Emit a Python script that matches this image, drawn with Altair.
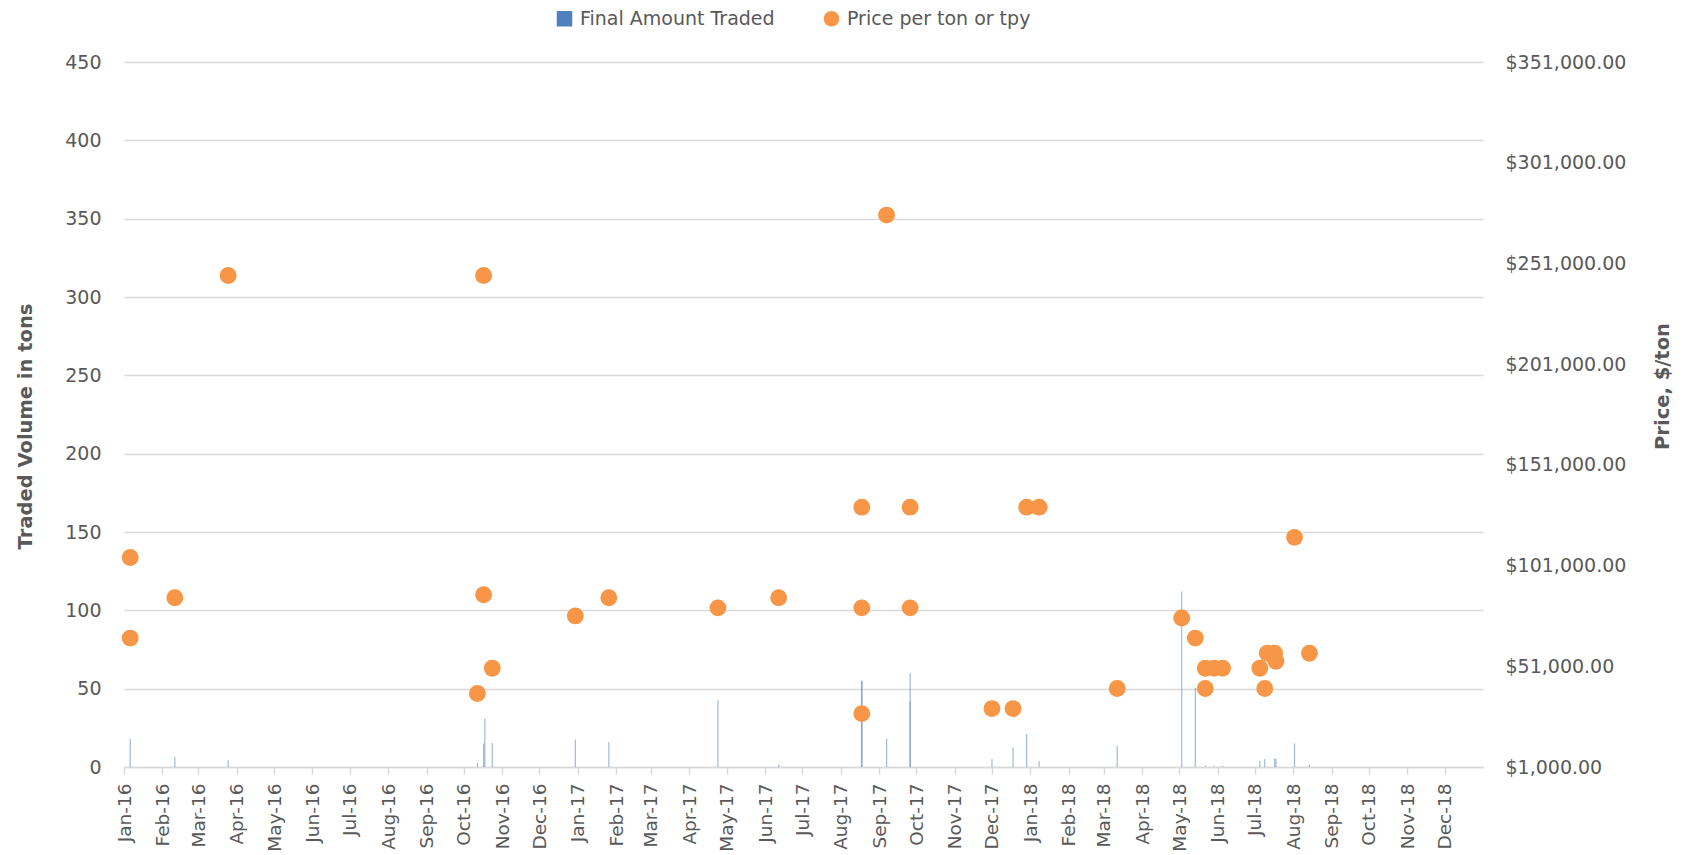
import altair as alt
import pandas as pd

# ---- data ----
bar_dates = ["2016-01-06", "2016-02-11", "2016-03-25", "2016-10-12", "2016-10-17",
             "2016-10-18", "2016-10-24", "2016-12-30", "2017-01-26", "2017-04-24",
             "2017-06-12", "2017-08-18", "2017-08-18", "2017-09-07", "2017-09-26",
             "2017-09-26", "2017-12-01", "2017-12-18", "2017-12-29", "2018-01-08",
             "2018-03-12", "2018-05-03", "2018-05-14", "2018-05-22", "2018-05-29",
             "2018-06-05", "2018-07-05", "2018-07-09", "2018-07-17", "2018-07-18",
             "2018-08-02", "2018-08-14"]
bar_volumes = [18, 6.4, 4.3, 2.6, 15,
               31, 15.3, 17.5, 15.8, 42.6,
               1.7, 55, 55, 18, 60,
               42, 5.3, 12.6, 21.3, 3.6,
               13.6, 112, 50.5, 1, 0.8,
               0.7, 4, 5.1, 5.3, 5.3,
               15.1, 1.5]

point_dates = ["2016-01-06", "2016-01-06", "2016-02-11", "2016-03-25", "2016-10-12",
               "2016-10-17", "2016-10-17", "2016-10-24", "2016-12-30", "2017-01-26",
               "2017-04-24", "2017-06-12", "2017-08-18", "2017-08-18", "2017-08-18",
               "2017-09-07", "2017-09-26", "2017-09-26", "2017-12-01", "2017-12-18",
               "2017-12-29", "2018-01-08", "2018-03-12", "2018-05-03", "2018-05-14",
               "2018-05-22", "2018-05-22", "2018-05-29", "2018-06-05", "2018-07-05",
               "2018-07-09", "2018-07-11", "2018-07-17", "2018-07-18", "2018-08-02",
               "2018-08-14"]
point_prices = [105000, 65000, 85000, 245000, 37500,
                245000, 86500, 50000, 76000, 85000,
                80000, 85000, 130000, 80000, 27500,
                275000, 130000, 80000, 30000, 30000,
                130000, 130000, 40000, 75000, 65000,
                50000, 40000, 50000, 50000, 50000,
                40000, 57500, 57500, 53500, 115000,
                57500]

series_names = ["Final Amount Traded", "Price per ton or tpy"]
series_colors = ["#4F81BD", "#F79646"]
series_shapes = ["square", "circle"]

left_ticks = [0, 50, 100, 150, 200, 250, 300, 350, 400, 450]
right_ticks = [1000, 51000, 101000, 151000, 201000, 251000, 301000, 351000]
tick_years = [2016, 2017, 2018]
tick_months = list(range(1, 13))

bars = pd.DataFrame({"date": pd.to_datetime(bar_dates), "volume": bar_volumes,
                     "series": series_names[0]})
points = pd.DataFrame({"date": pd.to_datetime(point_dates), "price": point_prices,
                       "series": series_names[1]})

month_values = [alt.DateTime(year=y, month=m, date=1) for y in tick_years for m in tick_months]

FONT = "DejaVu Sans"
GREY = "#595959"
GRID = "#D9D9D9"

x_enc = alt.X(
    "date:T",
    scale=alt.Scale(domain=[alt.DateTime(year=2016, month=1, date=1),
                            alt.DateTime(year=2019, month=1, date=1)],
                    padding=0, nice=False),
    axis=alt.Axis(
        title=None, values=month_values, format="%b-%y", labelAngle=270,
        labelFont=FONT, labelFontSize=18.5, labelColor=GREY, labelPadding=9,
        tickSize=7, tickColor=GRID, tickWidth=1.5,
        domainColor=GRID, domainWidth=1.5, grid=False, labelOverlap=False,
    ),
)

color_scale = alt.Scale(domain=series_names, range=series_colors)
shape_scale = alt.Scale(domain=series_names, range=series_shapes)

legend = alt.Legend(
    title=None, orient="none", legendX=431, legendY=-53, direction="horizontal",
    labelFont=FONT, labelFontSize=19, labelColor=GREY, symbolSize=240,
    symbolOpacity=1, symbolStrokeWidth=0, columnPadding=47, labelOffset=6,
    labelLimit=0,
)

bar_layer = alt.Chart(bars).mark_bar(size=1.2, opacity=0.55).encode(
    x=x_enc,
    y=alt.Y(
        "volume:Q", stack=None,
        scale=alt.Scale(domain=[0, 450], nice=False),
        axis=alt.Axis(
            title="Traded Volume in tons", orient="left", values=left_ticks,
            labelFont=FONT, labelFontSize=19, labelColor=GREY, labelPadding=23,
            ticks=False, domain=False, grid=True, gridColor=GRID, gridWidth=1.3,
            titleFont=FONT, titleFontSize=19.5, titleFontWeight="bold", titleColor=GREY,
            titleAngle=270, titleX=-99, titleY=364, titleAlign="center", titleBaseline="middle",
        ),
    ),
    color=alt.Color("series:N", scale=color_scale, legend=legend),
)

point_layer = alt.Chart(points).mark_point(size=285, opacity=1, filled=True).encode(
    x=x_enc,
    y=alt.Y(
        "price:Q",
        scale=alt.Scale(domain=[1000, 351000], nice=False, zero=False),
        axis=alt.Axis(
            title="Price, $/ton", orient="right", values=right_ticks, format="$,.2f",
            labelFont=FONT, labelFontSize=19, labelColor=GREY, labelPadding=22,
            ticks=False, domain=False, grid=False,
            titleFont=FONT, titleFontSize=19.5, titleFontWeight="bold", titleColor=GREY,
            titleAngle=270, titleX=179, titleY=324, titleAlign="center", titleBaseline="middle",
        ),
    ),
    color=alt.Color("series:N", scale=color_scale, legend=legend),
    shape=alt.Shape("series:N", scale=shape_scale, legend=legend),
)

chart = alt.layer(bar_layer, point_layer).resolve_scale(y="independent").properties(
    width=1359, height=705,
    autosize=alt.AutoSizeParams(type="none"),
    padding={"left": 116, "top": 54, "right": 190, "bottom": 86},
).configure(background="white").configure_view(stroke=None)

chart.save("out.html", embed_options={"renderer": "svg", "actions": False})
